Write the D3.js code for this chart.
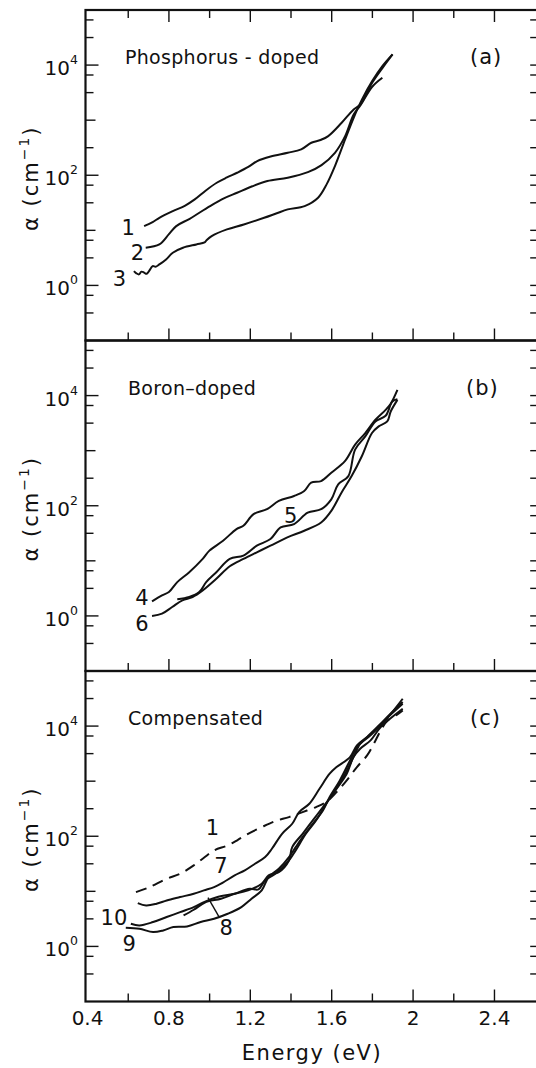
<!DOCTYPE html>
<html><head><meta charset="utf-8">
<script src="https://cdn.jsdelivr.net/npm/d3@7"></script>
<style>
body{margin:0;background:#fff}
svg{display:block}
text{font-family:"DejaVu Sans",sans-serif;fill:#111}
</style>
</head><body>
<svg id="chart" width="536" height="1068"></svg>
<script>
// ---------- axes ----------
const energyTicks = [0.6,0.8,1.0,1.2,1.4,1.6,1.8,2.0,2.2,2.4];
const energyLabels = [0.4,0.8,1.2,1.6,2,2.4];
const alphaLabelExp = [0,2,4];
const alphaMinorExp = [-0.5,-0.18,0.5,0.82,1,1.5,1.82,2.5,3,3.5,3.82,4.5,4.82];
const panelTitles = ["Phosphorus - doped","Boron\u2013doped","Compensated"];
const panelLetters = ["(a)","(b)","(c)"];

// ---------- data: [energy eV, log10 alpha] ----------
const curve1a = [[0.678,1.077],[0.72,1.15],[0.753,1.228],[0.819,1.349],[0.88,1.45],[0.927,1.561],[0.98,1.72],[1.035,1.864],[1.085,1.96],[1.135,2.045],[1.19,2.15],[1.234,2.257],[1.30,2.34],[1.384,2.408],[1.45,2.47],[1.500,2.590],[1.545,2.64],[1.583,2.711],[1.649,2.953],[1.708,3.195],[1.741,3.286],[1.799,3.679],[1.85,3.95],[1.899,4.194]];
const curve2a = [[0.686,0.684],[0.753,0.744],[0.80,0.93],[0.836,1.077],[0.902,1.210],[1.002,1.440],[1.07,1.58],[1.135,1.682],[1.21,1.80],[1.284,1.894],[1.384,1.955],[1.483,2.057],[1.550,2.185],[1.616,2.408],[1.666,2.711],[1.708,3.104],[1.741,3.268],[1.799,3.607],[1.849,3.770]];
const curve3a = [[0.628,0.260],[0.640,0.22],[0.653,0.200],[0.665,0.25],[0.678,0.232],[0.690,0.21],[0.703,0.265],[0.720,0.351],[0.735,0.34],[0.753,0.381],[0.786,0.472],[0.819,0.593],[0.869,0.684],[0.935,0.744],[0.975,0.78],[0.985,0.82],[1.010,0.896],[1.085,1.017],[1.168,1.107],[1.268,1.228],[1.33,1.31],[1.384,1.380],[1.467,1.440],[1.533,1.592],[1.575,1.834],[1.616,2.166],[1.666,2.651],[1.708,3.044],[1.749,3.377],[1.799,3.710],[1.849,3.982],[1.899,4.194]];

const curve4b = [[0.717,0.265],[0.766,0.373],[0.800,0.433],[0.841,0.614],[0.900,0.794],[0.966,1.035],[0.999,1.185],[1.066,1.365],[1.132,1.576],[1.166,1.636],[1.216,1.847],[1.282,1.937],[1.340,2.087],[1.415,2.177],[1.465,2.268],[1.499,2.418],[1.548,2.448],[1.598,2.599],[1.665,2.809],[1.715,3.110],[1.765,3.320],[1.815,3.561],[1.865,3.741],[1.890,3.850],[1.923,4.102]];
const curve5b = [[0.841,0.301],[0.900,0.343],[0.949,0.433],[0.983,0.614],[1.033,0.794],[1.099,1.035],[1.166,1.095],[1.232,1.275],[1.299,1.396],[1.349,1.606],[1.415,1.666],[1.482,1.876],[1.548,1.937],[1.598,2.117],[1.632,2.388],[1.682,2.538],[1.715,3.020],[1.765,3.260],[1.815,3.531],[1.865,3.633],[1.898,3.892],[1.923,3.934]];
const curve6b = [[0.717,0.000],[0.766,0.042],[0.816,0.162],[0.866,0.283],[0.916,0.343],[0.966,0.463],[1.033,0.674],[1.099,0.902],[1.166,1.035],[1.232,1.155],[1.299,1.275],[1.382,1.426],[1.465,1.546],[1.548,1.696],[1.598,1.907],[1.648,2.238],[1.698,2.538],[1.748,2.899],[1.798,3.320],[1.831,3.441],[1.873,3.531],[1.890,3.711],[1.923,3.922]];

const curve1c = [[0.638,0.986],[0.705,1.077],[0.789,1.228],[0.855,1.319],[0.922,1.470],[0.972,1.610],[1.022,1.743],[1.089,1.834],[1.139,1.936],[1.189,2.045],[1.256,2.166],[1.323,2.275],[1.390,2.348],[1.457,2.439],[1.523,2.530],[1.573,2.620],[1.624,2.802],[1.674,3.014],[1.724,3.256],[1.774,3.467],[1.807,3.679],[1.841,3.921],[1.874,4.103],[1.916,4.194],[1.949,4.285]];
const curve7c = [[0.647,0.787],[0.688,0.744],[0.739,0.775],[0.789,0.835],[0.855,0.896],[0.922,0.956],[0.972,1.017],[1.022,1.077],[1.056,1.138],[1.123,1.289],[1.173,1.380],[1.223,1.501],[1.273,1.622],[1.306,1.773],[1.356,2.045],[1.406,2.227],[1.440,2.439],[1.490,2.590],[1.540,2.862],[1.590,3.135],[1.624,3.256],[1.690,3.437],[1.724,3.649],[1.774,3.800],[1.841,4.012],[1.891,4.224],[1.949,4.496]];
const curve8c = [[0.872,0.563],[0.922,0.666],[0.972,0.787],[0.997,0.823],[1.056,0.865],[1.123,0.956],[1.198,1.047],[1.240,1.035],[1.273,1.198],[1.323,1.319],[1.390,1.561],[1.423,1.743],[1.473,2.045],[1.523,2.287],[1.573,2.590],[1.624,2.862],[1.674,3.135],[1.707,3.437],[1.740,3.589],[1.791,3.740],[1.841,3.982],[1.949,4.315]];
const curve9c = [[0.588,0.339],[0.655,0.321],[0.722,0.260],[0.772,0.290],[0.822,0.351],[0.889,0.363],[0.956,0.442],[1.022,0.502],[1.089,0.593],[1.156,0.714],[1.206,0.865],[1.256,1.017],[1.290,1.259],[1.340,1.410],[1.390,1.622],[1.423,1.803],[1.457,1.985],[1.507,2.227],[1.557,2.469],[1.590,2.711],[1.640,3.014],[1.690,3.377],[1.724,3.619],[1.774,3.800],[1.841,4.042],[1.949,4.405]];
const curve10c = [[0.613,0.411],[0.655,0.381],[0.722,0.442],[0.789,0.533],[0.855,0.623],[0.922,0.714],[0.972,0.805],[1.039,0.896],[1.123,0.956],[1.189,1.017],[1.256,1.138],[1.290,1.289],[1.340,1.349],[1.390,1.561],[1.406,1.803],[1.457,2.045],[1.507,2.287],[1.557,2.530],[1.607,2.772],[1.657,3.074],[1.707,3.437],[1.740,3.679],[1.791,3.831],[1.857,4.103],[1.949,4.436]];

// curve labels: [text, energy, log10 alpha]
const labelsA = [["1",0.600,1.047],["2",0.645,0.593],["3",0.557,0.121]];
const labelsB = [["4",0.667,0.343],["5",1.399,1.817],["6",0.667,-0.138]];
const labelsC = [["1",1.014,2.166],["7",1.056,1.470],["10",0.530,0.533],["9",0.605,0.048],["8",1.081,0.351]];
const pointer8 = [[1.047,0.533],[0.992,0.884]];

const panels = [
  {curves:[curve1a,curve2a,curve3a], dashed:[], labels:labelsA},
  {curves:[curve4b,curve5b,curve6b], dashed:[], labels:labelsB},
  {curves:[curve7c,curve8c,curve9c,curve10c], dashed:[curve1c], labels:labelsC, pointer:pointer8}
];

// ---------- drawing ----------
const svg = d3.select("#chart");
const x = d3.scaleLinear().domain([0.39, 2.61]).range([85.5, 537.2]);
const panelTops = [10, 340.5, 671];
const PH = 330.5;
const xL = x(0.39), xR = x(2.61);

panels.forEach((p, i) => {
  const top = panelTops[i], bot = top + PH;
  const y = d3.scaleLog().domain([1e-1, 1e5]).range([bot, top]);
  const g = svg.append("g");
  const line = d3.line().x(d => x(d[0])).y(d => y(Math.pow(10, d[1]))).curve(d3.curveCatmullRom.alpha(0.5));

  g.append("rect").attr("x", xL).attr("y", top).attr("width", xR - xL).attr("height", PH)
    .attr("fill", "none").attr("stroke", "#111").attr("stroke-width", 2.2);

  const allY = alphaLabelExp.map(e => ({e, len: 13})).concat(alphaMinorExp.map(e => ({e, len: (e === 1 || e === 3) ? 10 : 8})));
  allY.forEach(t => {
    const yy = y(Math.pow(10, t.e));
    g.append("line").attr("x1", xL).attr("x2", xL + t.len).attr("y1", yy).attr("y2", yy).attr("stroke", "#111").attr("stroke-width", 1.4);
    g.append("line").attr("x1", xR).attr("x2", xR - 7).attr("y1", yy).attr("y2", yy).attr("stroke", "#111").attr("stroke-width", 1.4);
  });
  alphaLabelExp.forEach(e => {
    const yy = y(Math.pow(10, e));
    const t = g.append("text").attr("x", 78).attr("y", yy + 10).attr("text-anchor", "end").attr("font-size", 20).text("10");
    t.append("tspan").attr("dy", -11).attr("font-size", 12.5).text(e);
  });

  energyTicks.forEach(v => {
    const major = Math.abs(Math.round(v * 10) % 4) === 0;
    const len = major ? 12 : 8;
    g.append("line").attr("x1", x(v)).attr("x2", x(v)).attr("y1", bot).attr("y2", bot - len).attr("stroke", "#111").attr("stroke-width", 1.4);
    if (i === 0) g.append("line").attr("x1", x(v)).attr("x2", x(v)).attr("y1", top).attr("y2", top + len).attr("stroke", "#111").attr("stroke-width", 1.4);
  });

  const yt = g.append("text").attr("transform", `translate(38,${(top + bot) / 2 + 3}) rotate(-90)`)
    .attr("text-anchor", "middle").attr("font-size", 21).attr("letter-spacing", 2).text("\u03b1 (cm");
  yt.append("tspan").attr("dy", -9).attr("font-size", 14).text("\u22121");
  yt.append("tspan").attr("dy", 9).text(")");

  g.append("text").attr("x", i === 0 ? 125 : 128).attr("y", top + 54).attr("font-size", 19).attr("letter-spacing", 0.3).text(panelTitles[i]);
  g.append("text").attr("x", i === 1 ? 466 : 470).attr("y", top + 54).attr("font-size", 21).attr("letter-spacing", 1).text(panelLetters[i]);

  p.curves.forEach(c => {
    g.append("path").attr("d", line(c)).attr("fill", "none").attr("stroke", "#111").attr("stroke-width", 2).attr("stroke-linejoin", "round");
  });
  p.dashed.forEach(c => {
    g.append("path").attr("d", line(c)).attr("fill", "none").attr("stroke", "#111").attr("stroke-width", 2).attr("stroke-dasharray", "11,7");
  });
  if (p.pointer) {
    g.append("path").attr("d", d3.line().x(d => x(d[0])).y(d => y(Math.pow(10, d[1])))(p.pointer)).attr("stroke", "#111").attr("stroke-width", 1.4);
  }
  p.labels.forEach(l => {
    g.append("text").attr("x", x(l[1])).attr("y", y(Math.pow(10, l[2]))).attr("dy", "0.36em")
      .attr("text-anchor", "middle").attr("font-size", 21).text(l[0]);
  });
});

energyLabels.forEach(v => {
  svg.append("text").attr("x", x(v)).attr("y", 1025).attr("text-anchor", "middle").attr("font-size", 20).text(v);
});
svg.append("text").attr("x", 312).attr("y", 1060).attr("text-anchor", "middle").attr("font-size", 21).attr("letter-spacing", 1.5).text("Energy (eV)");
</script>
</body></html>
